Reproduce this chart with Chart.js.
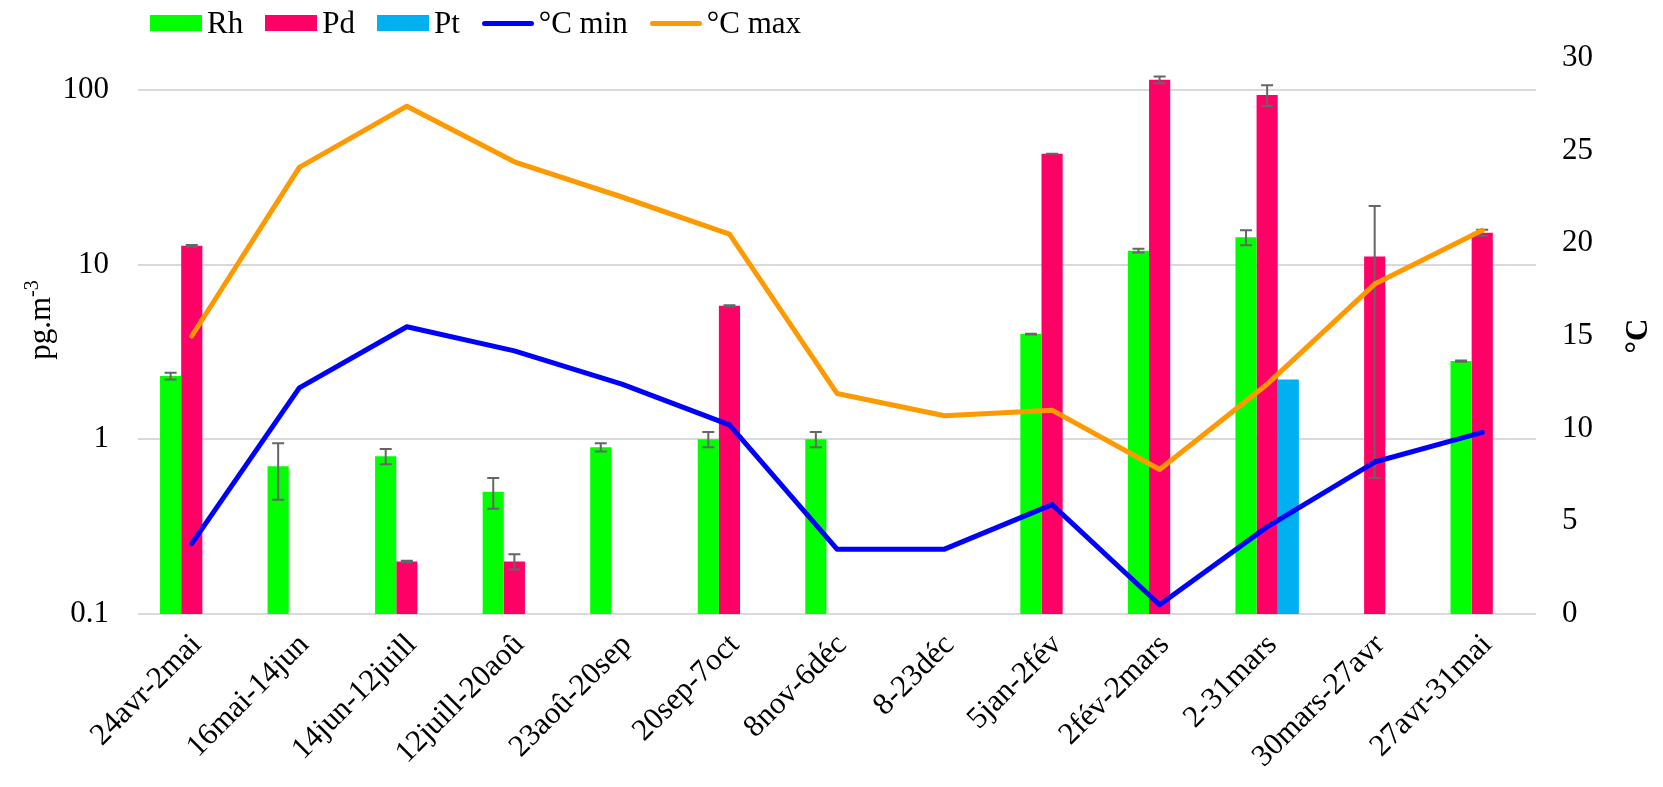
<!DOCTYPE html>
<html>
<head>
<meta charset="utf-8">
<script src="https://cdn.jsdelivr.net/npm/chart.js@4"></script>
<style>
  body { margin: 0; background: #fff; }
  #wrap { position: relative; width: 1663px; height: 787px; }
  #legend { position: absolute; left: 150px; top: 0; height: 46px; display: flex; align-items: center;
    font-family: 'Liberation Serif', 'Times New Roman', serif; font-size: 31px; color: #000; }
  #legend .item { display: flex; align-items: center; margin-right: 22px; }
  #legend .box { width: 52px; height: 16px; margin-right: 5px; }
  #legend .line { width: 52px; height: 5px; border-radius: 3px; margin-right: 5px; }
</style>
</head>
<body>
<div id="wrap">
  <canvas id="myChart" width="1663" height="787"></canvas>
  <div id="legend"></div>
</div>
<script>
// categories (sampling periods)
const periods = ['24avr-2mai', '16mai-14jun', '14jun-12juill', '12juill-20aoû', '23aoû-20sep', '20sep-7oct',
  '8nov-6déc', '8-23déc', '5jan-2fév', '2fév-2mars', '2-31mars', '30mars-27avr', '27avr-31mai'];

// concentrations, pg.m-3
const rh = [2.3, 0.7, 0.8, 0.5, 0.9, 1.0, 1.0, null, 4.0, 12, 14.3, null, 2.8];
const rhErr = [0.1, 0.25, 0.08, 0.1, 0.05, 0.1, 0.1, null, 0.02, 0.3, 1.4, null, 0.02];
const pd = [12.8, null, 0.2, 0.2, null, 5.8, null, null, 43, 114, 93.5, 11.1, 15.2];
const pdErr = [0.15, null, 0.002, 0.02, null, 0.05, null, null, 0, 5, 12.8, 10.5, 0.6];
const pt = [null, null, null, null, null, null, null, null, null, null, 2.2, null, null];

// temperatures, °C
const tMin = [3.8, 12.2, 15.5, 14.2, 12.4, 10.2, 3.5, 3.5, 5.9, 0.5, 4.7, 8.2, 9.8];
const tMax = [15.0, 24.1, 27.4, 24.4, 22.5, 20.5, 11.9, 10.7, 11.0, 7.8, 12.4, 17.8, 20.7];

// axis ticks
const concTicks = [0.1, 1, 10, 100];
const tempTicks = [0, 5, 10, 15, 20, 25, 30];

const serif = "'Liberation Serif', 'Times New Roman', serif";

// error bars drawn right after each bar dataset
const errorBars = {
  id: 'errorBars',
  afterDatasetDraw(chart, args) {
    const ds = chart.data.datasets[args.index];
    if (!ds.errors) return;
    const y = chart.scales.y;
    const ctx = chart.ctx;
    ctx.save();
    ctx.strokeStyle = '#666666';
    ctx.lineWidth = 2;
    args.meta.data.forEach((bar, i) => {
      const v = ds.data[i], e = ds.errors[i];
      if (v == null || e == null) return;
      const top = y.getPixelForValue(v + e);
      const bot = y.getPixelForValue(Math.max(v - e, 0.0001));
      ctx.beginPath();
      ctx.moveTo(bar.x, top); ctx.lineTo(bar.x, bot);
      ctx.moveTo(bar.x - 6, top); ctx.lineTo(bar.x + 6, top);
      ctx.moveTo(bar.x - 6, bot); ctx.lineTo(bar.x + 6, bot);
      ctx.stroke();
    });
    ctx.restore();
  }
};

// axis titles, both read bottom to top; the left one has a raised "-3"
const axisTitles = {
  id: 'axisTitles',
  afterDraw(chart) {
    const a = chart.chartArea;
    const ctx = chart.ctx;
    ctx.save();
    ctx.fillStyle = '#000';
    ctx.textBaseline = 'alphabetic';
    ctx.textAlign = 'left';

    // left: pg.m-3
    ctx.save();
    ctx.translate(50, 320);
    ctx.rotate(-Math.PI / 2);
    ctx.font = '31px ' + serif;
    const w1 = ctx.measureText('pg.m').width;
    ctx.font = '20px ' + serif;
    const w2 = ctx.measureText('-3').width;
    const x0 = -(w1 + w2) / 2;
    ctx.font = '31px ' + serif;
    ctx.fillText('pg.m', x0, 0);
    ctx.font = '20px ' + serif;
    ctx.fillText('-3', x0 + w1, -12);
    ctx.restore();

    // right: °C
    ctx.save();
    ctx.translate(1639, (a.top + a.bottom) / 2);
    ctx.rotate(-Math.PI / 2);
    ctx.font = 'bold 31px ' + serif;
    ctx.textAlign = 'center';
    ctx.textBaseline = 'middle';
    ctx.fillText('°C', 0, 0);
    ctx.restore();

    ctx.restore();
  }
};

const ctx = document.getElementById('myChart').getContext('2d');
const chart = new Chart(ctx, {
  type: 'bar',
  data: {
    labels: periods,
    datasets: [
      { label: 'Rh', data: rh, errors: rhErr, backgroundColor: '#00ff00', yAxisID: 'y', order: 2 },
      { label: 'Pd', data: pd, errors: pdErr, backgroundColor: '#ff0066', yAxisID: 'y', order: 2 },
      { label: 'Pt', data: pt, backgroundColor: '#00b0f0', yAxisID: 'y', order: 2 },
      { type: 'line', label: '°C min', data: tMin, borderColor: '#0000ff', backgroundColor: '#0000ff',
        borderWidth: 5, pointRadius: 0, tension: 0, yAxisID: 'y1', order: 1,
        borderCapStyle: 'round', borderJoinStyle: 'round' },
      { type: 'line', label: '°C max', data: tMax, borderColor: '#ff9900', backgroundColor: '#ff9900',
        borderWidth: 5, pointRadius: 0, tension: 0, yAxisID: 'y1', order: 1,
        borderCapStyle: 'round', borderJoinStyle: 'round' }
    ]
  },
  options: {
    responsive: false,
    animation: false,
    layout: { padding: { top: 58, left: 0, right: 0, bottom: 0 } },
    datasets: { bar: { barPercentage: 1, categoryPercentage: 0.59 } },
    plugins: { legend: { display: false }, tooltip: { enabled: false } },
    scales: {
      x: {
        offset: true,
        grid: { display: false },
        border: { display: false },
        ticks: { color: '#000', font: { family: serif, size: 31 }, minRotation: 45, maxRotation: 45,
          autoSkip: false, padding: 5, labelOffset: 5 },
        afterFit(scale) { scale.height = 173; }
      },
      y: {
        type: 'logarithmic',
        position: 'left',
        min: 0.1,
        max: 152,
        grid: { color: '#d9d9d9', lineWidth: 2, drawTicks: false },
        border: { display: false },
        ticks: { color: '#000', font: { family: serif, size: 31 }, padding: 29,
          callback: v => String(v) },
        afterBuildTicks(scale) { scale.ticks = concTicks.map(v => ({ value: v })); },
        afterFit(scale) { scale.width = 138; }
      },
      y1: {
        position: 'right',
        min: 0,
        max: 30,
        grid: { display: false, drawTicks: false },
        border: { display: false },
        ticks: { color: '#000', font: { family: serif, size: 31 }, padding: 26, stepSize: 5 },
        afterBuildTicks(scale) { scale.ticks = tempTicks.map(v => ({ value: v })); },
        afterFit(scale) { scale.width = 127; }
      }
    }
  },
  plugins: [errorBars, axisTitles]
});

// html legend, built from the datasets in display order
const legendEl = document.getElementById('legend');
chart.data.datasets.forEach(ds => {
  const item = document.createElement('div');
  item.className = 'item';
  const sw = document.createElement('div');
  sw.className = ds.type === 'line' ? 'line' : 'box';
  sw.style.background = ds.type === 'line' ? ds.borderColor : ds.backgroundColor;
  const txt = document.createElement('span');
  txt.textContent = ds.label;
  item.appendChild(sw);
  item.appendChild(txt);
  legendEl.appendChild(item);
});
</script>
</body>
</html>
